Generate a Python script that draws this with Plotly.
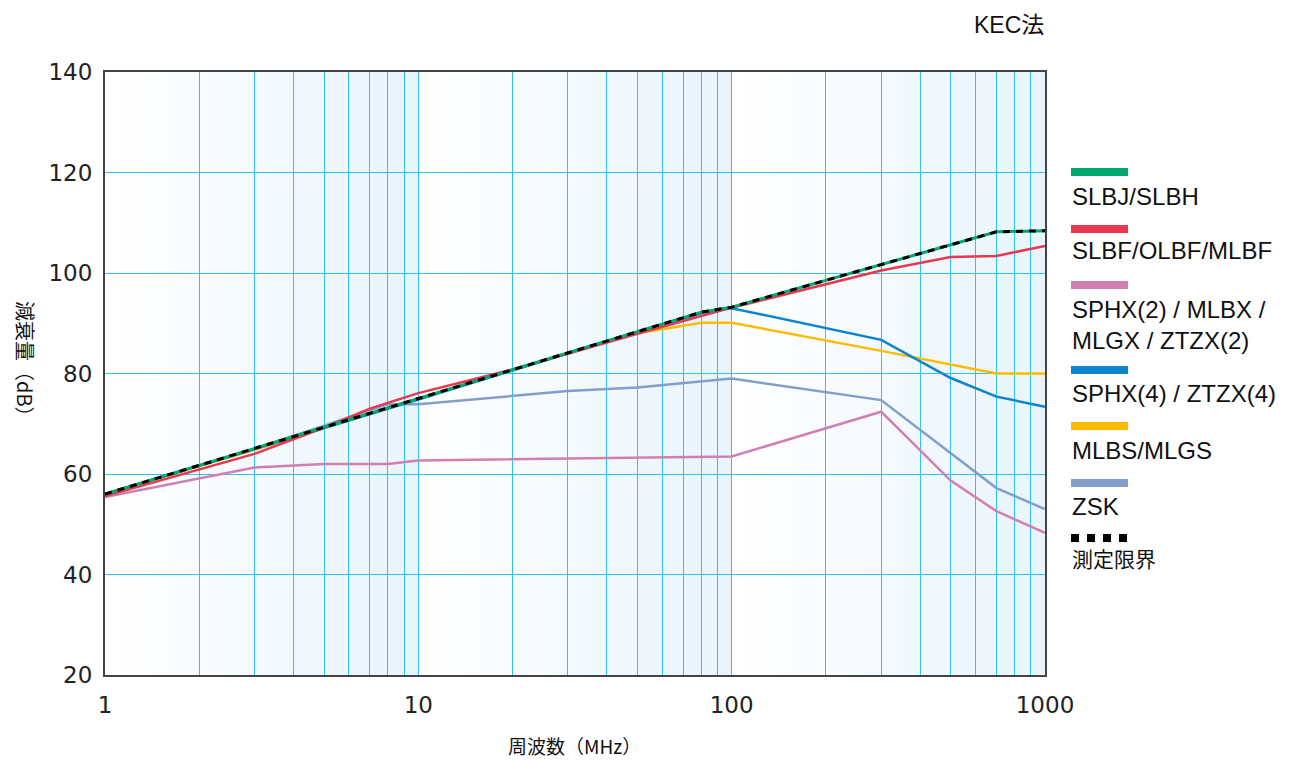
import plotly.graph_objects as go

# ---------------- data ----------------
freq_green = [1, 3, 10, 30, 80, 100, 300, 500, 700, 1000]
att_green = [56.0, 65.1, 75.0, 84.1, 92.2, 93.2, 101.7, 105.6, 108.2, 108.4]

freq_limit = [1, 3, 10, 30, 80, 100, 300, 500, 700, 1000]
att_limit = [56.0, 65.1, 75.0, 84.1, 92.2, 93.2, 101.7, 105.6, 108.2, 108.4]

freq_red = [1, 3, 5, 7, 10, 20, 50, 100, 300, 500, 700, 1000]
att_red = [55.6, 64.0, 69.2, 73.0, 76.1, 80.8, 87.9, 93.1, 100.5, 103.2, 103.4, 105.4]

freq_pink = [1, 3, 5, 8, 10, 100, 300, 500, 700, 1000]
att_pink = [55.4, 61.3, 62.0, 62.0, 62.7, 63.5, 72.4, 58.7, 52.6, 48.3]

freq_blue = [1, 3, 10, 30, 80, 100, 300, 500, 700, 1000]
att_blue = [56.0, 65.0, 74.8, 84.0, 92.0, 93.0, 86.7, 79.1, 75.4, 73.4]

freq_yellow = [1, 3, 10, 30, 50, 80, 100, 300, 700, 1000]
att_yellow = [56.0, 64.8, 75.0, 84.0, 88.0, 90.1, 90.1, 84.5, 80.0, 80.0]

freq_zsk = [1, 3, 8, 10, 30, 50, 100, 300, 700, 1000]
att_zsk = [56.0, 65.0, 73.9, 73.9, 76.5, 77.2, 79.0, 74.7, 57.2, 53.0]

legend_labels = ["SLBJ/SLBH", "SLBF/OLBF/MLBF", "SPHX(2) / MLBX /<br>MLGX / ZTZX(2)",
                 "SPHX(4) / ZTZX(4)", "MLBS/MLGS", "ZSK", "測定限界"]
x_tick_vals = [1, 10, 100, 1000]
x_tick_text = ["1", "10", "100", "1000"]
y_tick_vals = [20, 40, 60, 80, 100, 120, 140]

# ---------------- styles ----------------
C_GREEN = "#00a870"
C_RED = "#e8384f"
C_PINK = "#d07fb3"
C_BLUE = "#0a84d0"
C_YELLOW = "#fbbb00"
C_ZSK = "#829fcb"
C_BLACK = "#000000"
GRID = "#2cc3ee"

W, H = 1302, 760
L, R, T, B = 105, 1045, 72, 675

fig = go.Figure()

def add(xs, ys, color, width=2.5, dash=None, name=""):
    fig.add_trace(go.Scatter(x=xs, y=ys, mode="lines", name=name,
                             line=dict(color=color, width=width, dash=dash),
                             showlegend=False, hoverinfo="x+y"))

add(freq_pink, att_pink, C_PINK, name="pink")
add(freq_zsk, att_zsk, C_ZSK, name="ZSK")
add(freq_yellow, att_yellow, C_YELLOW, name="yellow")
add(freq_blue, att_blue, C_BLUE, name="blue")
add(freq_red, att_red, C_RED, name="red")
add(freq_green, att_green, C_GREEN, width=3, name="green")
add(freq_limit, att_limit, C_BLACK, width=3, dash="7px,6px", name="limit")

shapes = []
# background gradient per decade
N = 40
for d in range(3):
    for i in range(N):
        f = i / N
        r = round(255 - (255 - 232) * f)
        g = round(255 - (255 - 244) * f)
        b = round(255 - (255 - 252) * f)
        shapes.append(dict(type="rect", xref="paper", yref="paper",
                           x0=(d + i / N) / 3, x1=(d + (i + 1) / N) / 3 + 0.0005,
                           y0=0, y1=1, fillcolor=f"rgb({r},{g},{b})",
                           line=dict(width=0), layer="below"))

def px_x(p):
    return (p - L) / (R - L)

def px_y(p):
    return (B - p) / (B - T)

legend_colors = [C_GREEN, C_RED, C_PINK, C_BLUE, C_YELLOW, C_ZSK, C_BLACK]
swatch_y = [172, 229, 285, 370, 426, 483, 538]
text_y = [197, 250, 325, 393, 450, 506, 558]
annotations = []
for col, sy, ty, lab in zip(legend_colors, swatch_y, text_y, legend_labels):
    shapes.append(dict(type="line", xref="paper", yref="paper",
                       x0=px_x(1071), x1=px_x(1128), y0=px_y(sy), y1=px_y(sy),
                       line=dict(color=col, width=8, dash="dot" if col == C_BLACK else "solid")))
    is_jp = lab == "測定限界"
    annotations.append(dict(xref="paper", yref="paper", x=px_x(1070), y=px_y(ty),
                            xanchor="left", yanchor="middle", align="left",
                            text=lab, showarrow=False,
                            font=dict(family="Noto Sans CJK JP" if is_jp else "Liberation Sans, Arial",
                                      size=21 if is_jp else 24, color="#111")))

annotations.append(dict(xref="paper", yref="paper", x=px_x(1046), y=px_y(25),
                        xanchor="right", yanchor="middle", text="KEC法", showarrow=False,
                        font=dict(family="Liberation Sans, Noto Sans CJK JP", size=23, color="#111")))
annotations.append(dict(xref="paper", yref="paper", x=px_x(574), y=px_y(745),
                        xanchor="center", yanchor="middle", text="周波数（MHz）", showarrow=False,
                        font=dict(family="Noto Sans CJK JP", size=19, color="#111")))
annotations.append(dict(xref="paper", yref="paper", x=px_x(26), y=px_y(364),
                        xanchor="center", yanchor="middle", text="減衰量（dB）", showarrow=False,
                        textangle=90,
                        font=dict(family="Noto Sans CJK JP", size=20, color="#111")))

minor_vals = [m * 10 ** d for d in range(3) for m in range(2, 10)]

fig.update_layout(
    width=W, height=H,
    margin=dict(l=L, r=W - R, t=T, b=H - B),
    paper_bgcolor="white", plot_bgcolor="white",
    shapes=shapes, annotations=annotations,
    showlegend=False,
    xaxis=dict(type="log", range=[0, 3], tickvals=x_tick_vals, ticktext=x_tick_text,
               showgrid=True, gridcolor=GRID, gridwidth=1,
               minor=dict(tickvals=minor_vals, showgrid=True, gridcolor=GRID, gridwidth=1, ticks=""),
               showline=True, linecolor="#444", linewidth=2, mirror=True,
               ticks="outside", ticklen=8, tickcolor="rgba(0,0,0,0)",
               tickfont=dict(family="DejaVu Sans", size=23, color="#222"),
               zeroline=False),
    yaxis=dict(range=[20, 140], tickvals=y_tick_vals,
               showgrid=True, gridcolor=GRID, gridwidth=1,
               showline=True, linecolor="#444", linewidth=2, mirror=True,
               ticks="outside", ticklen=6, tickcolor="rgba(0,0,0,0)",
               tickfont=dict(family="DejaVu Sans", size=23, color="#222"),
               zeroline=False),
)

fig.write_html("out.html", config={"displayModeBar": False},
               post_script="document.body.style.margin='0';document.body.style.overflow='hidden';")
